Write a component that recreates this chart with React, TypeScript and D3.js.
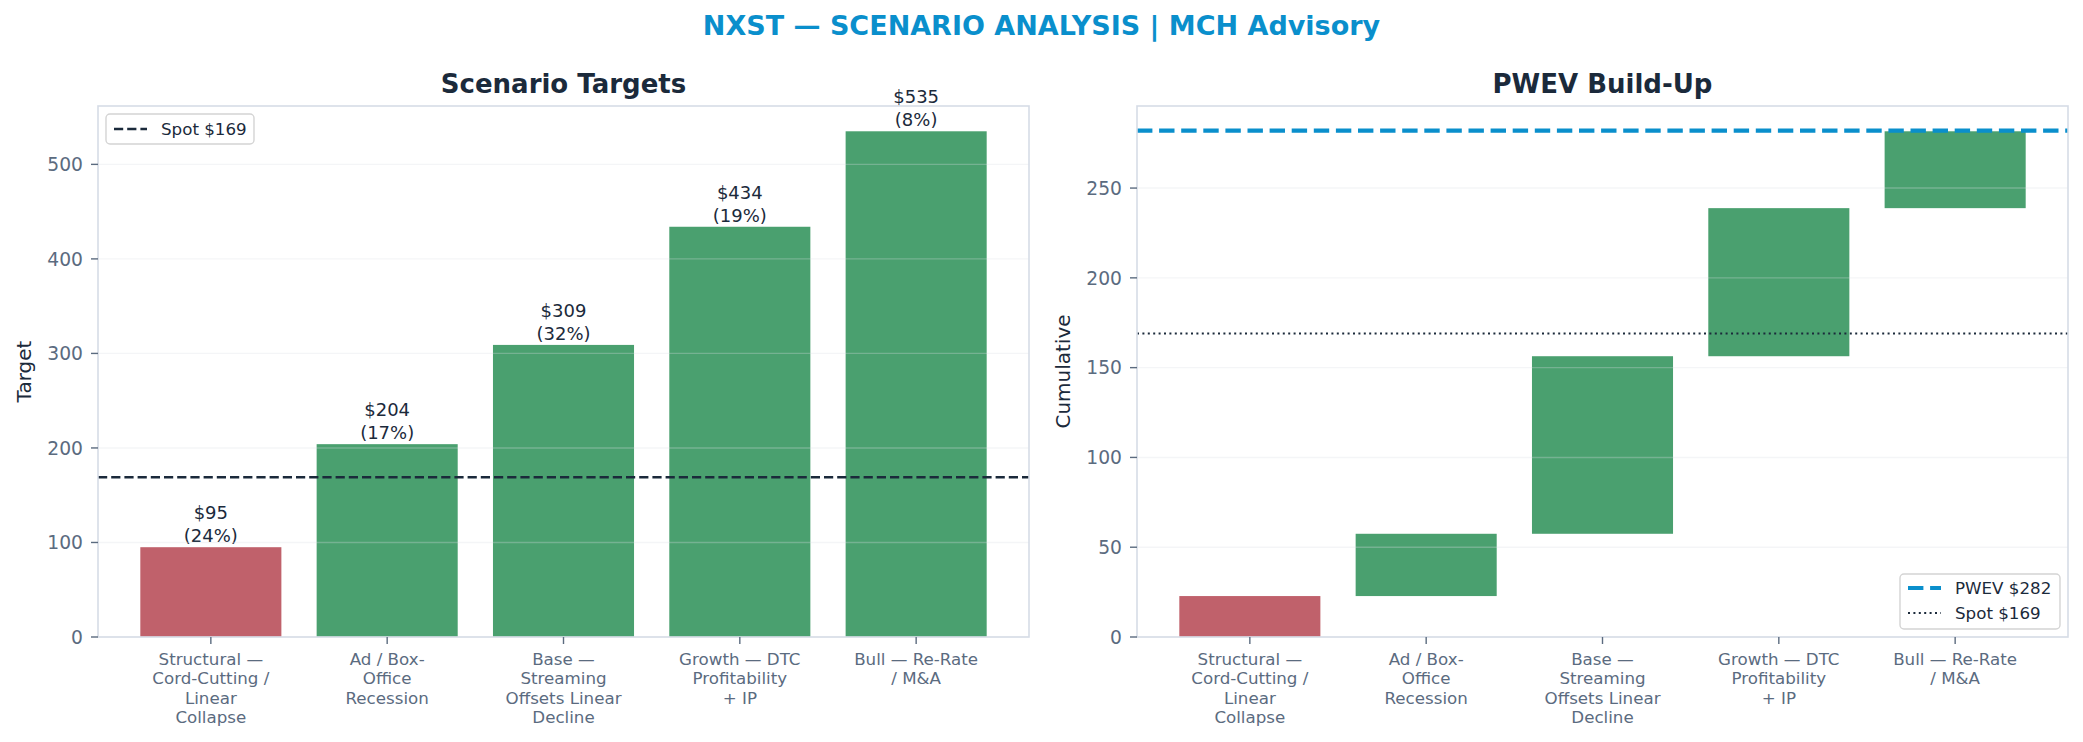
import React from "react";
import * as d3 from "d3";

const TITLE = "NXST — SCENARIO ANALYSIS | MCH Advisory";
const scenarios = [
  "Structural — Cord-Cutting / Linear Collapse",
  "Ad / Box-Office Recession",
  "Base — Streaming Offsets Linear Decline",
  "Growth — DTC Profitability + IP",
  "Bull — Re-Rate / M&A",
];
const tickLines = [
  ["Structural —", "Cord-Cutting /", "Linear", "Collapse"],
  ["Ad / Box-", "Office", "Recession"],
  ["Base —", "Streaming", "Offsets Linear", "Decline"],
  ["Growth — DTC", "Profitability", "+ IP"],
  ["Bull — Re-Rate", "/ M&A"],
];
const targets = [95, 204, 309, 434, 535];
const probs = [0.24, 0.17, 0.32, 0.19, 0.08];
const SPOT = 169;
const PWEV = 282;
const leftTicks = [0, 100, 200, 300, 400, 500];
const rightTicks = [0, 50, 100, 150, 200, 250];

const W = 2083, H = 742;
const FONT = "DejaVu Sans, sans-serif";
const RED = "#c0616b";
const GREEN = "#4aa06f";
const NAVY = "#1b2a3b";
const BLUE = "#0a8fcc";
const TICKC = "#5b6b7f";
const FRAME = "#d6dce6";

const TOP = 106, BOTTOM = 637;
const panels = [
  { x0: 98, x1: 1029 },
  { x0: 1137, x1: 2068 },
];

function Axes({ px, y, ticks, ylabel, title, children }: any) {
  const x = d3.scaleLinear().domain([-0.64, 4.64]).range([px.x0, px.x1]);
  return (
    <g>
      {children(x)}
      {/* grid above bars */}
      {ticks.map((t: number) => (
        <line key={"g" + t} x1={px.x0} x2={px.x1} y1={y(t)} y2={y(t)} stroke="#d9dee4" strokeOpacity={0.3} strokeWidth={1.4} />
      ))}
      <rect x={px.x0} y={TOP} width={px.x1 - px.x0} height={BOTTOM - TOP} fill="none" stroke={FRAME} strokeWidth={1.6} />
      {ticks.map((t: number) => (
        <g key={"t" + t}>
          <line x1={px.x0 - 7} x2={px.x0} y1={y(t)} y2={y(t)} stroke={TICKC} strokeWidth={1.4} />
          <text x={px.x0 - 15} y={y(t)} dy="0.36em" textAnchor="end" fontSize={18.7} fill={TICKC} fontFamily={FONT}>{t}</text>
        </g>
      ))}
      {tickLines.map((lines, i) => (
        <g key={"x" + i}>
          <line x1={x(i)} x2={x(i)} y1={BOTTOM} y2={BOTTOM + 7} stroke={TICKC} strokeWidth={1.4} />
          {lines.map((ln, j) => (
            <text key={j} x={x(i)} y={665 + j * 19.3} textAnchor="middle" fontSize={16.7} fill={TICKC} fontFamily={FONT}>{ln}</text>
          ))}
        </g>
      ))}
      <text transform={`translate(${px.x0 - 74},${(TOP + BOTTOM) / 2}) rotate(-90)`} textAnchor="middle" dy="0.36em" fontSize={20} fill={NAVY} fontFamily={FONT}>{ylabel}</text>
      <text x={(px.x0 + px.x1) / 2} y={93} textAnchor="middle" fontSize={26} fontWeight="bold" fill={NAVY} fontFamily={FONT}>{title}</text>
    </g>
  );
}

export default function App() {
  const yL = d3.scaleLinear().domain([0, d3.max(targets)! * 1.05]).range([BOTTOM, TOP]);
  const contrib = targets.map((t, i) => t * probs[i]);
  const cum = d3.cumsum(contrib);
  const starts = cum.map((c, i) => c - contrib[i]);
  const yR = d3.scaleLinear().domain([0, d3.max(cum)! * 1.05]).range([BOTTOM, TOP]);
  const bw = 0.8;

  return (
    <svg width={W} height={H} style={{ position: "absolute", left: 0, top: 0, background: "#fff" }} fontFamily={FONT}>
      <rect width={W} height={H} fill="#fff" />
      <text x={W / 2} y={35} textAnchor="middle" fontSize={27} fontWeight="bold" fill={BLUE}>{TITLE}</text>

      <Axes px={panels[0]} y={yL} ticks={leftTicks} ylabel="Target" title="Scenario Targets">
        {(x: any) => (
          <g>
            {targets.map((v, i) => (
              <rect key={scenarios[i]} x={x(i - bw / 2)} width={x(bw) - x(0)} y={yL(v)} height={yL(0) - yL(v)} fill={v < SPOT ? RED : GREEN} />
            ))}
            {targets.map((v, i) => (
              <g key={"l" + i}>
                <text x={x(i)} y={yL(v) - 28} textAnchor="middle" fontSize={18} fill={NAVY}>{`$${v}`}</text>
                <text x={x(i)} y={yL(v) - 5} textAnchor="middle" fontSize={18} fill={NAVY}>{`(${Math.round(probs[i] * 100)}%)`}</text>
              </g>
            ))}
            <line x1={panels[0].x0} x2={panels[0].x1} y1={yL(SPOT)} y2={yL(SPOT)} stroke={NAVY} strokeWidth={2.5} strokeDasharray="9.2,4" />
            <g>
              <rect x={106} y={114} width={148} height={30} rx={4} fill="#fff" fillOpacity={0.85} stroke="#d4d4d4" strokeWidth={1.4} />
              <line x1={114} x2={147} y1={129} y2={129} stroke={NAVY} strokeWidth={2.5} strokeDasharray="9.2,4" />
              <text x={161} y={129} dy="0.36em" fontSize={16.7} fill={NAVY}>{`Spot $${SPOT}`}</text>
            </g>
          </g>
        )}
      </Axes>

      <Axes px={panels[1]} y={yR} ticks={rightTicks} ylabel="Cumulative" title="PWEV Build-Up">
        {(x: any) => (
          <g>
            {contrib.map((c, i) => (
              <rect key={scenarios[i]} x={x(i - bw / 2)} width={x(bw) - x(0)} y={yR(cum[i])} height={yR(starts[i]) - yR(cum[i])} fill={targets[i] < SPOT ? RED : GREEN} />
            ))}
            <line x1={panels[1].x0} x2={panels[1].x1} y1={yR(PWEV)} y2={yR(PWEV)} stroke={BLUE} strokeWidth={4.2} strokeDasharray="15.4,6.7" />
            <line x1={panels[1].x0} x2={panels[1].x1} y1={yR(SPOT)} y2={yR(SPOT)} stroke={NAVY} strokeWidth={2} strokeDasharray="2,3.4" />
            <g>
              <rect x={1900} y={574} width={160} height={55} rx={4} fill="#fff" fillOpacity={0.85} stroke="#d4d4d4" strokeWidth={1.4} />
              <line x1={1908} x2={1941} y1={588} y2={588} stroke={BLUE} strokeWidth={4.2} strokeDasharray="15.4,6.7" />
              <text x={1955} y={588} dy="0.36em" fontSize={16.7} fill={NAVY}>{`PWEV $${PWEV}`}</text>
              <line x1={1908} x2={1941} y1={613} y2={613} stroke={NAVY} strokeWidth={2} strokeDasharray="2,3.4" />
              <text x={1955} y={613} dy="0.36em" fontSize={16.7} fill={NAVY}>{`Spot $${SPOT}`}</text>
            </g>
          </g>
        )}
      </Axes>
    </svg>
  );
}
